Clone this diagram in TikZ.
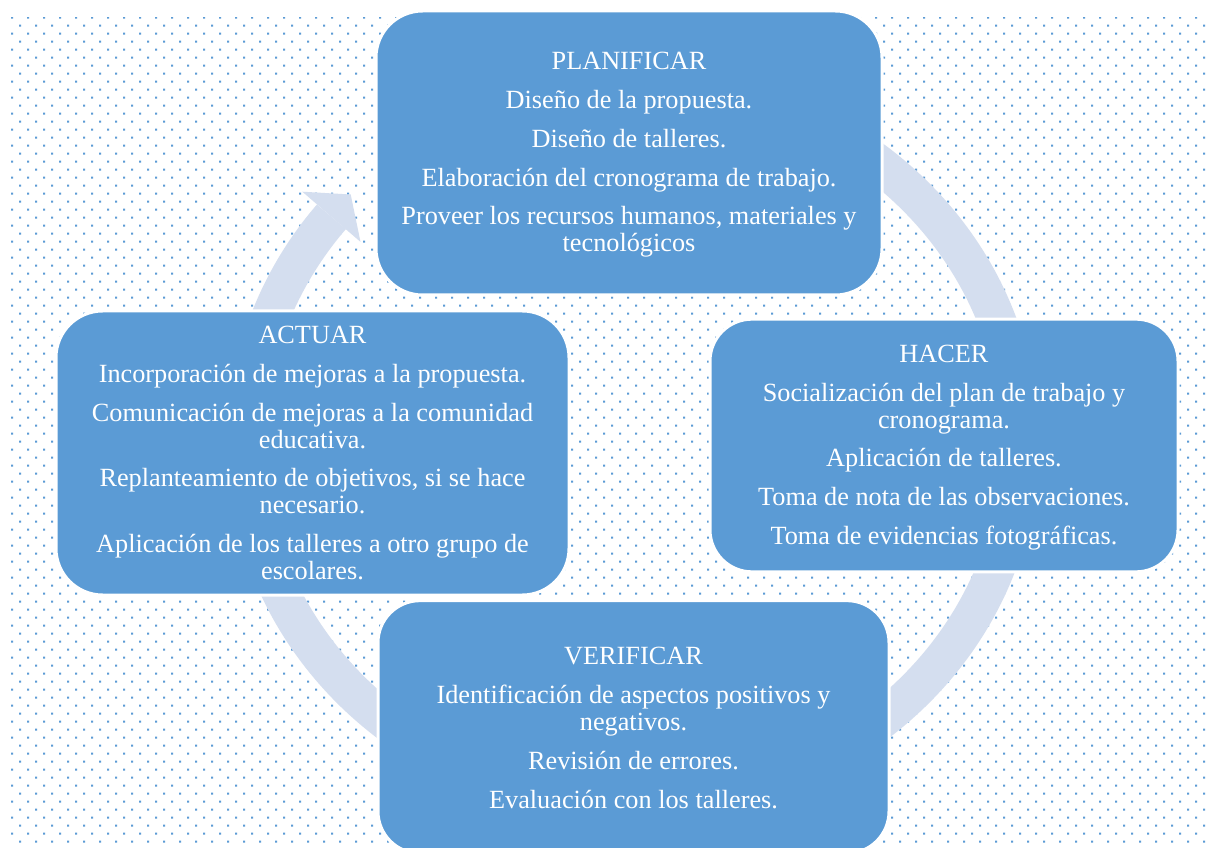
\documentclass[tikz,border=0pt]{standalone}
\usepackage{fontspec}
\setmainfont{Liberation Serif}
\definecolor{boxblue}{RGB}{91,155,213}
\definecolor{ringc}{RGB}{212,222,239}
\tikzset{
  cyclebox/.style={draw=white, line width=2.25pt, fill=boxblue, text=white,
    align=center, inner sep=0pt, font=\fontsize{19.7}{20.25}\selectfont},
  tallbox/.style={cyclebox, rounded corners=35pt, minimum width=#1, minimum height=213pt},
  shortbox/.style={cyclebox, rounded corners=31.5pt, minimum width=#1, minimum height=189.5pt},
  ring/.style={draw=ringc, line width=28.5pt},
}
\newcommand{\pgap}{\\[8.8pt]}
\begin{document}
\begin{tikzpicture}[x=0.75pt, y=-0.75pt]
\useasboundingbox (0,0) rectangle (1211,848);
\fill[white] (0,0) rectangle (1211,848);
% dotted background
\begin{scope}
\clip (11,17.7) rectangle (1211,848);
\fill[boxblue] \foreach \y in {16.7,32.7,...,848} {\foreach \x in {11,27,...,1211} {(\x,\y) rectangle ++(2,2)}};
\fill[boxblue] \foreach \y in {24.7,40.7,...,848} {\foreach \x in {19,35,...,1211} {(\x,\y) rectangle ++(2,2)}};
\end{scope}
% circular arrow
\draw[ring] plot[domain=-218.8:75, samples=160, smooth] ({633+387*cos(\x)}, {443-361*sin(\x)});
\coordinate (barbA) at (302.3,191.7);
\coordinate (tip) at (350.7,194.5);
\coordinate (barbB) at (360.5,241.9);
\fill[ringc] (barbA) -- (tip) -- (barbB) -- cycle;
% boxes
\node[tallbox=379.5pt] (plan) at (629,153) {};
\node[text=white, align=center, inner sep=0pt, font=\fontsize{19.7}{20.25}\selectfont] (plantext) at (629,155) {PLANIFICAR\pgap
Diseño de la propuesta.\pgap
Diseño de talleres.\pgap
Elaboración del cronograma de trabajo.\pgap
Proveer los recursos humanos, materiales y\\
tecnológicos};
\node[shortbox=351pt] (hacer) at (944,445.5) {};
\node[text=white, align=center, inner sep=0pt, font=\fontsize{19.7}{20.25}\selectfont] (hacertext) at (944,447.5) {HACER\pgap
Socialización del plan de trabajo y\\
cronograma.\pgap
Aplicación de talleres.\pgap
Toma de nota de las observaciones.\pgap
Toma de evidencias fotográficas.};
\node[tallbox=384.75pt] (actuar) at (312.5,453) {ACTUAR\pgap
Incorporación de mejoras a la propuesta.\pgap
Comunicación de mejoras a la comunidad\\
educativa.\pgap
Replanteamiento de objetivos, si se hace\\
necesario.\pgap
Aplicación de los talleres a otro grupo de\\
escolares.};
\node[shortbox=383.25pt] (verif) at (633.5,727) {};
\node[text=white, align=center, inner sep=0pt, font=\fontsize{19.7}{20.25}\selectfont] (veriftext) at (633.5,728) {VERIFICAR\pgap
Identificación de aspectos positivos y\\
negativos.\pgap
Revisión de errores.\pgap
Evaluación con los talleres.};
\end{tikzpicture}
\end{document}
